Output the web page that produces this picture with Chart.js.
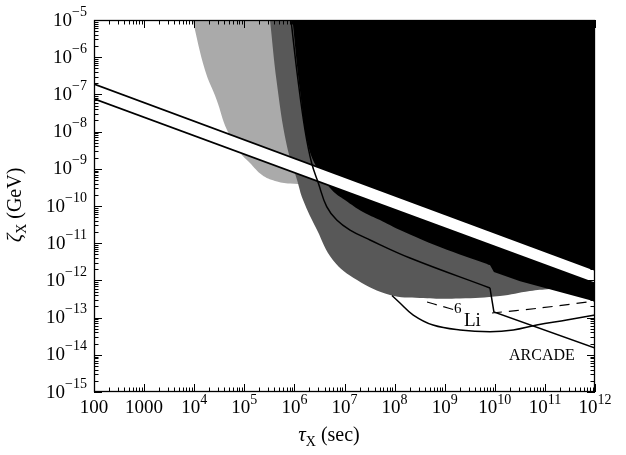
<!DOCTYPE html>
<html>
<head>
<meta charset="UTF-8" />
<title>Constraints on zeta_X vs tau_X</title>
<style type="text/css">
  body { margin: 0; background: #fff; }
  .chartBox { width: 626px; height: 455px; }
</style>
</head>
<body>
<div class="chartBox"><canvas id="myChart"></canvas></div>
<script src="https://cdn.jsdelivr.net/npm/chart.js@4.4.1/dist/chart.umd.min.js"></script>
<script>
// values: tau_X in sec, zeta_X in GeV
var lightTau  = [9.3e3, 1.64e4, 2.81e4, 4.52e4, 8.2e4, 1.3e5, 2.26e5, 4.1e5, 8.17e5, 3.24e6];
var lightZeta = [1e-5, 4.5e-7, 7.1e-8, 1.1e-8, 2.8e-9, 1.43e-9, 6.8e-10, 4.7e-10, 4.0e-10, 3.7e-10];

var darkTau  = [3.26e5, 4.43e5, 7.0e5, 1.13e6, 1.49e6, 2.83e6, 5.9e6, 1.78e7, 8.1e7, 3.2e8, 2.0e9, 1.27e10, 5.0e10, 1.26e11, 1e12];
var darkZeta = [1e-5, 2.2e-7, 4.4e-9, 5.0e-10, 1.45e-10, 2.26e-11, 3.5e-12, 1.03e-12, 4.05e-13, 3.37e-13, 3.26e-13, 3.8e-13, 5.2e-13, 5.9e-13, 7.5e-13];

// black region: curved part, then the straight part past the step near 1e10 s
var blackTau  = [9.16e5, 1.29e6, 1.87e6, 2.96e6, 5.6e6, 1.02e7, 2.34e7, 5.1e7, 1.28e8, 8.0e8, 8.0e9];
var blackZeta = [1e-5, 1.31e-7, 4.4e-9, 9.3e-10, 2.7e-10, 1.45e-10, 6.9e-11, 4.2e-11, 2.26e-11, 7.9e-12, 2.6e-12];
var blackStepTau  = [7.0e9, 8.0e9, 9.6e9, 3.2e10, 1e12];
var blackStepZeta = [2.76e-12, 2.6e-12, 1.68e-12, 9.5e-13, 2.7e-13];

var bandTau   = [100, 1e12];
var bandUpper = [1.9e-7, 1.9e-12];
var bandLower = [7.6e-8, 8.3e-13];

// solid curve: smooth part, then the drop at 1e10 s and the ARCADE line
var curveTau  = [8.55e5, 1.18e6, 1.63e6, 2.21e6, 3.0e6, 4.41e6, 7.0e6, 1.29e7, 3.23e7, 2.03e8, 8.0e9];
var curveZeta = [1e-5, 2.44e-7, 1.1e-8, 1.43e-9, 4.15e-10, 9.6e-11, 4.2e-11, 2.26e-11, 1.22e-11, 4.0e-12, 6.25e-13];
var arcadeTau  = [8.0e9, 9.6e9, 1e12];
var arcadeZeta = [6.25e-13, 1.42e-13, 1.52e-14];

var uTau  = [8.87e7, 1.28e8, 2.36e8, 5.84e8, 2.02e9, 8.0e9, 2.34e10, 6.86e10, 2.72e11, 1e12];
var uZeta = [3.93e-13, 2.47e-13, 1.17e-13, 6.3e-14, 4.64e-14, 4.18e-14, 4.64e-14, 6.3e-14, 8.6e-14, 1.17e-13];

var liTau  = [4.44e8, 8.44e8, 1.61e9, 3.5e9, 8.79e9, 7.98e10, 1e12];
var liZeta = [2.62e-13, 2.05e-13, 1.6e-13, null, 1.33e-13, 1.81e-13, 2.79e-13];

var xExps = [2, 3, 4, 5, 6, 7, 8, 9, 10, 11, 12];
var yExps = [-5, -6, -7, -8, -9, -10, -11, -12, -13, -14, -15];

function pts(xs, ys) {
  return xs.map(function (x, i) { return { x: x, y: ys[i] }; });
}

const SERIF = '"Liberation Serif", "DejaVu Serif", serif';

// draws a "10^e" label; align is 'center' or 'right'
function powerLabel(ctx, e, x, y, baseSize, expSize, rise, align) {
  var base, exp = '';
  if (e === 2) base = '100';
  else if (e === 3) base = '1000';
  else { base = '10'; exp = String(e).replace('-', '\u2212'); }
  ctx.font = baseSize + 'px ' + SERIF;
  var wb = ctx.measureText(base).width;
  ctx.font = expSize + 'px ' + SERIF;
  var we = exp ? ctx.measureText(exp).width : 0;
  var left = align === 'right' ? x - wb - we : x - (wb + we) / 2;
  ctx.textAlign = 'left';
  ctx.textBaseline = 'alphabetic';
  ctx.font = baseSize + 'px ' + SERIF;
  ctx.fillText(base, left, y);
  if (exp) {
    ctx.font = expSize + 'px ' + SERIF;
    ctx.fillText(exp, left + wb, y - rise);
  }
}

// pieces: [text, font, dy]
function drawPieces(ctx, pieces, cx, y) {
  var total = 0;
  pieces.forEach(function (p) { ctx.font = p[1]; total += ctx.measureText(p[0]).width; });
  var x = cx - total / 2;
  ctx.textAlign = 'left';
  ctx.textBaseline = 'alphabetic';
  pieces.forEach(function (p) {
    ctx.font = p[1];
    ctx.fillText(p[0], x, y + p[2]);
    x += ctx.measureText(p[0]).width;
  });
}

const axesPlugin = {
  id: 'axesPlugin',
  afterDraw(chart) {
    const ctx = chart.ctx, a = chart.chartArea;
    const xs = chart.scales.x, ys = chart.scales.y;
    ctx.save();
    ctx.strokeStyle = '#000';
    ctx.fillStyle = '#000';
    ctx.lineWidth = 1;
    ctx.beginPath();
    // inward ticks on all four sides
    xExps.forEach(function (e) {
      for (var k = 1; k <= 9; k++) {
        if (e === 12 && k > 1) break;
        var px = Math.round(xs.getPixelForValue(k * Math.pow(10, e))) + 0.5;
        var len = k === 1 ? 8 : 4.5;
        ctx.moveTo(px, a.bottom); ctx.lineTo(px, a.bottom - len);
        ctx.moveTo(px, a.top); ctx.lineTo(px, a.top + len);
      }
    });
    yExps.forEach(function (e) {
      for (var k = 1; k <= 9; k++) {
        if (e === -5 && k > 1) break;
        var py = Math.round(ys.getPixelForValue(k * Math.pow(10, e))) + 0.5;
        var len = k === 1 ? 8 : 4.5;
        ctx.moveTo(a.left, py); ctx.lineTo(a.left + len, py);
        ctx.moveTo(a.right, py); ctx.lineTo(a.right - len, py);
      }
    });
    ctx.stroke();
    ctx.lineWidth = 1.3;
    ctx.strokeRect(a.left + 0.5, a.top + 0.5, a.right - a.left - 1, a.bottom - a.top - 1);

    // tick labels
    xExps.forEach(function (e) {
      powerLabel(ctx, e, xs.getPixelForValue(Math.pow(10, e)), a.bottom + 21, 19, 14, 9, 'center');
    });
    yExps.forEach(function (e) {
      powerLabel(ctx, e, a.left - 7, ys.getPixelForValue(Math.pow(10, e)) + 5.5, 19, 14, 10, 'right');
    });

    // axis titles
    drawPieces(ctx, [
      ['\u03c4', 'italic 21px ' + SERIF, 0],
      ['X', '14px ' + SERIF, 5],
      [' (sec)', '20px ' + SERIF, 0]
    ], 329, 441);
    ctx.save();
    ctx.translate(21, 205);
    ctx.rotate(-Math.PI / 2);
    drawPieces(ctx, [
      ['\u03b6', 'italic 21px ' + SERIF, 0],
      ['X', '14px ' + SERIF, 5],
      [' (GeV)', '20px ' + SERIF, 0]
    ], 0, 0);
    ctx.restore();

    // curve labels
    ctx.font = '15px ' + SERIF;
    ctx.textAlign = 'left';
    ctx.fillText('6', 454, 313);
    ctx.font = '19px ' + SERIF;
    ctx.fillText('Li', 464, 326);
    ctx.font = '16px ' + SERIF;
    ctx.fillText('ARCADE', 509, 360);
    ctx.restore();
  }
};

const ctx = document.getElementById('myChart').getContext('2d');

function area(label, data, color, order, tension) {
  return {
    label: label, data: data, showLine: true,
    borderWidth: 0, borderColor: 'rgba(0,0,0,0)',
    backgroundColor: color, fill: 'end', pointRadius: 0,
    tension: tension, order: order
  };
}

function curve(label, data, order, tension) {
  return {
    label: label, data: data, showLine: true,
    borderWidth: 1.5, borderColor: '#000',
    fill: false, pointRadius: 0, tension: tension, order: order
  };
}

const config = {
  type: 'scatter',
  data: {
    datasets: [
      area('light', pts(lightTau, lightZeta), '#aaaaaa', 10, 0.4),
      area('dark', pts(darkTau, darkZeta), '#585858', 9, 0.4),
      area('black', pts(blackTau, blackZeta), '#000000', 8, 0.4),
      area('black step', pts(blackStepTau, blackStepZeta), '#000000', 7, 0),
      {
        label: 'band upper',
        data: pts(bandTau, bandUpper),
        showLine: true, borderWidth: 1.8, borderColor: '#000',
        backgroundColor: '#ffffff', fill: '+1', pointRadius: 0, order: 6
      },
      {
        label: 'band lower',
        data: pts(bandTau, bandLower),
        showLine: true, borderWidth: 1.8, borderColor: '#000',
        fill: false, pointRadius: 0, order: 5
      },
      curve('curve', pts(curveTau, curveZeta), 4, 0.4),
      curve('ARCADE', pts(arcadeTau, arcadeZeta), 4, 0),
      curve('U', pts(uTau, uZeta), 3, 0.4),
      {
        label: '6Li',
        data: pts(liTau, liZeta),
        showLine: true, borderWidth: 1.2, borderColor: '#000', borderDash: [10, 7],
        fill: false, pointRadius: 0, spanGaps: false, tension: 0.3, order: 2
      }
    ]
  },
  options: {
    responsive: true,
    maintainAspectRatio: false,
    animation: false,
    layout: { padding: { left: 94, top: 20, right: 31, bottom: 63 } },
    plugins: { legend: { display: false }, tooltip: { enabled: false } },
    scales: {
      x: { type: 'logarithmic', min: 100, max: 1e12, display: false },
      y: { type: 'logarithmic', min: 1e-15, max: 1e-5, display: false }
    }
  },
  plugins: [axesPlugin]
};

const myChart = new Chart(ctx, config);
</script>
</body>
</html>
